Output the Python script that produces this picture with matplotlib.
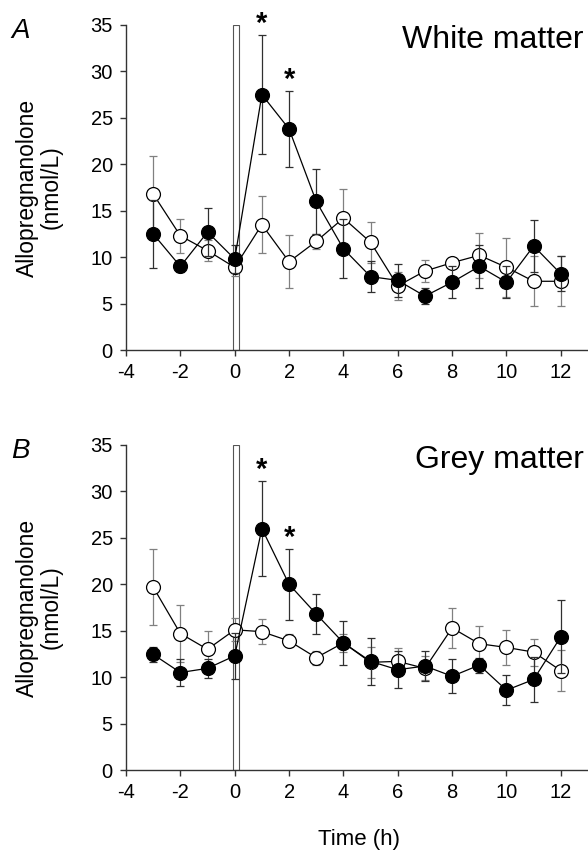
import numpy as np
import matplotlib
matplotlib.use("Agg")
import matplotlib.pyplot as plt

plt.rcParams['font.family'] = ['Liberation Sans', 'DejaVu Sans']
plt.rcParams['axes.unicode_minus'] = False

# Time points (h)
hours = [-3, -2, -1, 0, 1, 2, 3, 4, 5, 6, 7, 8, 9, 10, 11, 12]

# White matter (panel A)
wm_filled = [12.5, 9.0, 12.7, 9.8, 27.5, 23.8, 16.0, 10.9, 7.9, 7.5, 5.8, 7.3, 9.0, 7.3, 11.2, 8.2]
wm_filled_err = [3.7, 0.6, 2.6, 1.5, 6.4, 4.1, 3.5, 3.2, 1.7, 1.8, 0.85, 1.7, 2.3, 1.7, 2.8, 1.9]
wm_open = [16.8, 12.3, 10.7, 8.9, 13.5, 9.5, 11.7, 14.2, 11.6, 6.9, 8.5, 9.4, 10.2, 8.9, 7.4, 7.4]
wm_open_err = [4.1, 1.85, 1.1, 0.9, 3.05, 2.85, 0.8, 3.1, 2.2, 1.5, 1.2, 0.5, 2.45, 3.2, 2.7, 2.7]

# Grey matter (panel B)
gm_filled = [12.45, 10.5, 10.95, 12.3, 26.0, 20.0, 16.8, 13.7, 11.7, 10.8, 11.2, 10.1, 11.3, 8.6, 9.75, 14.35]
gm_filled_err = [0.85, 1.45, 1.0, 2.5, 5.1, 3.8, 2.15, 2.35, 2.55, 2.0, 1.65, 1.85, 0.8, 1.6, 2.4, 3.95]
gm_open = [19.7, 14.7, 13.0, 15.1, 14.9, 13.9, 12.1, 13.7, 11.6, 11.7, 10.95, 15.3, 13.6, 13.2, 12.7, 10.7]
gm_open_err = [4.1, 3.1, 2.0, 1.25, 1.35, 0.7, 0.75, 1.0, 1.7, 1.4, 1.3, 2.2, 1.9, 1.85, 1.45, 2.2]

# significant time points
sig_hours = [1, 2]

panels = [
    ("A", "White matter", wm_filled, wm_filled_err, wm_open, wm_open_err),
    ("B", "Grey matter", gm_filled, gm_filled_err, gm_open, gm_open_err),
]

fig = plt.figure(figsize=(5.88, 8.52), dpi=100)
rects = [[0.2143, 0.5892, 0.7857, 0.3815], [0.2143, 0.0962, 0.7857, 0.3815]]

axcol = '#333333'
for rect, (letter, title, yf, ef, yo, eo) in zip(rects, panels):
    ax = fig.add_axes(rect)
    # injection marker bar at t=0
    ax.bar(0.04, 35, width=0.2, color='white', edgecolor='#555555', linewidth=0.8, zorder=1)
    ax.errorbar(hours, yo, yerr=eo, fmt='-o', color='black', mfc='white', mec='black',
                ms=10, mew=0.9, lw=0.9, ecolor='#808080', elinewidth=0.9, capsize=3,
                capthick=0.9, zorder=3)
    ax.errorbar(hours, yf, yerr=ef, fmt='-o', color='black', mfc='black', mec='black',
                ms=10, mew=0.9, lw=0.9, ecolor='#303030', elinewidth=0.9, capsize=3,
                capthick=0.9, zorder=4)
    for h in sig_hours:
        i = hours.index(h)
        ax.annotate('*', (h, yf[i] + ef[i]), xytext=(0, -2), textcoords='offset points',
                    ha='center', va='bottom', fontsize=21, fontweight='bold')
    ax.set_xlim(-4, 13)
    ax.set_ylim(0, 35)
    ax.set_xticks(range(-4, 13, 2))
    ax.set_yticks(range(0, 36, 5))
    for s in ['top', 'right']:
        ax.spines[s].set_visible(False)
    for s in ['left', 'bottom']:
        ax.spines[s].set_color(axcol)
        ax.spines[s].set_linewidth(1.0)
    ax.tick_params(direction='out', length=4.5, width=1.0, color=axcol,
                   labelsize=14.5, pad=5)
    ax.set_ylabel('Allopregnanolone\n(nmol/L)', fontsize=16.5, labelpad=20, linespacing=1.05)
    ax.text(0.99, 1.0, title, transform=ax.transAxes, ha='right', va='top', fontsize=23)
    ax.text(-0.228, 1.02, letter, transform=ax.transAxes, ha='center', va='top',
            fontsize=20, style='italic')

fig.text(0.61, 0.002, 'Time (h)', ha='center', va='bottom', fontsize=16)

fig.savefig('out.png', dpi=100)
